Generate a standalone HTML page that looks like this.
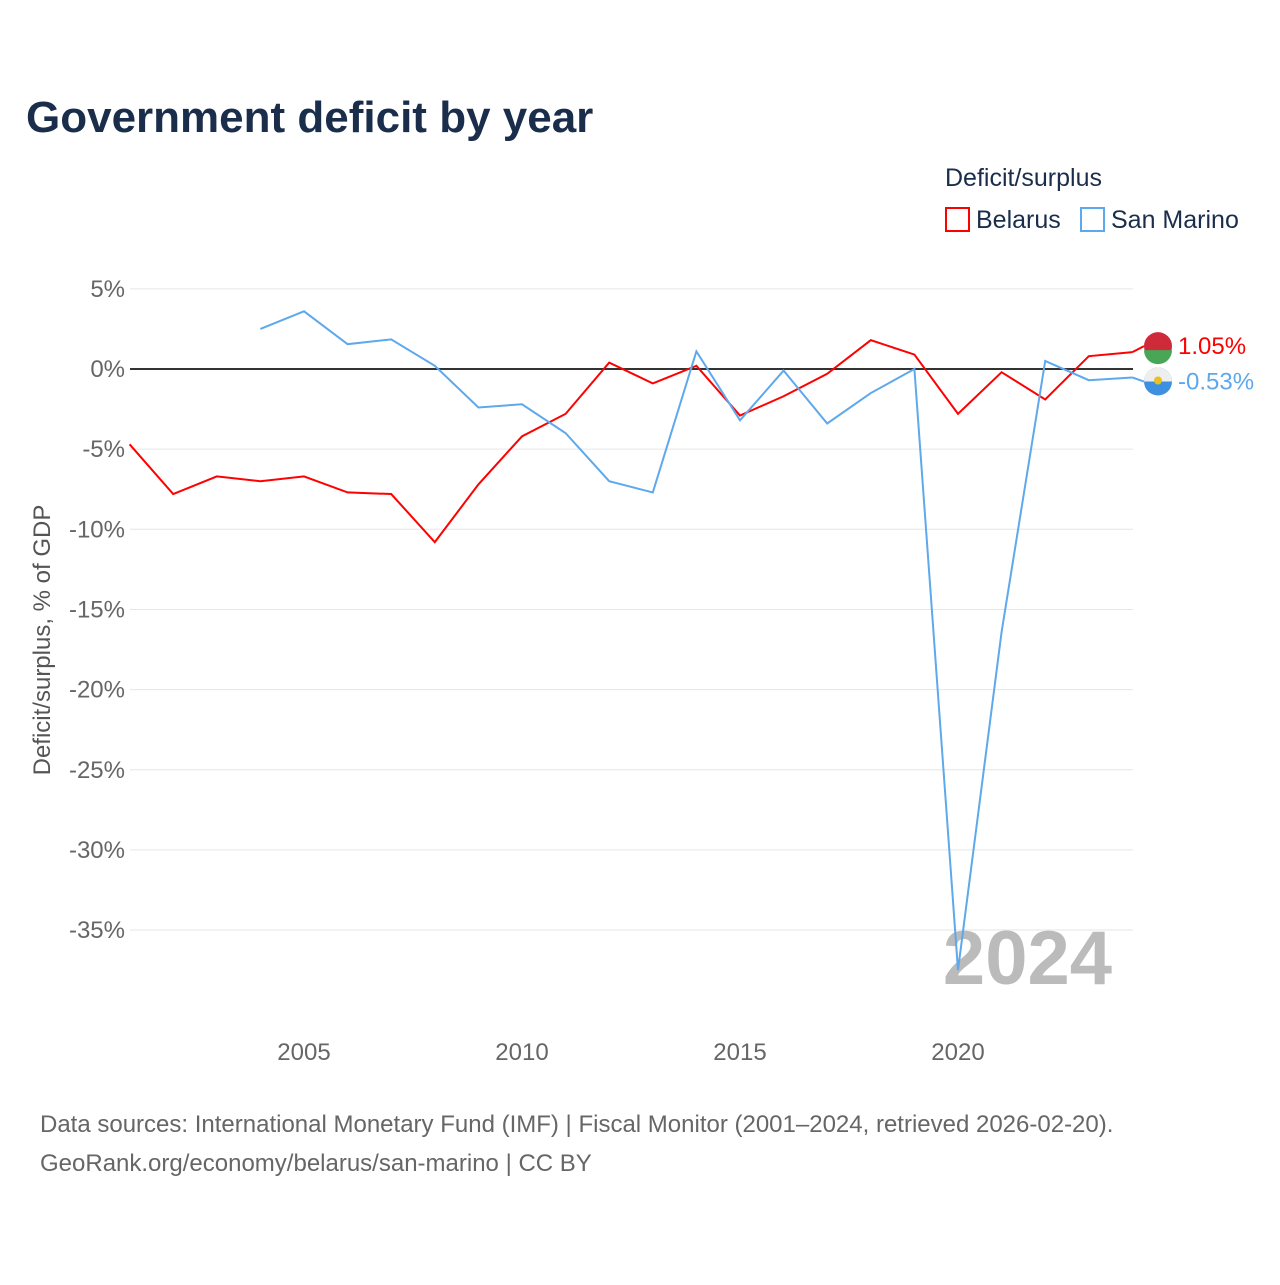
<!DOCTYPE html>
<html><head><meta charset="utf-8"><style>
body{margin:0;background:#fff;font-family:"Liberation Sans",sans-serif}
svg text{font-family:"Liberation Sans",sans-serif}
</style></head><body>
<svg width="1280" height="1280" xmlns="http://www.w3.org/2000/svg" id="chart">
<text x="26" y="132" font-size="44" font-weight="bold" fill="#1a2e4c">Government deficit by year</text>
<text x="945" y="186" font-size="25" fill="#1a2e4c">Deficit/surplus</text>
<g><rect x="946" y="208" width="23" height="23" fill="none" stroke="#ff0000" stroke-width="2"/><text x="976" y="228" font-size="25" fill="#1a2e4c">Belarus</text></g>
<g><rect x="1081" y="208" width="23" height="23" fill="none" stroke="#5ea8ec" stroke-width="2"/><text x="1111" y="228" font-size="25" fill="#1a2e4c">San Marino</text></g>
<g id="grid"></g>
<g id="yticks"></g>
<g id="xticks"></g>
<text transform="translate(50,640) rotate(-90)" text-anchor="middle" font-size="24" fill="#555">Deficit/surplus, % of GDP</text>
<text x="1112" y="984" text-anchor="end" font-size="76" font-weight="bold" fill="#bbb">2024</text>
<g id="series"></g>
<text x="40" y="1132" font-size="24" fill="#666">Data sources: International Monetary Fund (IMF) | Fiscal Monitor (2001–2024, retrieved 2026-02-20).</text>
<text x="40" y="1171" font-size="24" fill="#666">GeoRank.org/economy/belarus/san-marino | CC BY</text>
</svg>
<script>
const years=[2001,2002,2003,2004,2005,2006,2007,2008,2009,2010,2011,2012,2013,2014,2015,2016,2017,2018,2019,2020,2021,2022,2023,2024];
const belarus=[-4.7,-7.8,-6.7,-7.0,-6.7,-7.7,-7.8,-10.8,-7.2,-4.2,-2.8,0.4,-0.9,0.2,-2.9,-1.7,-0.3,1.8,0.9,-2.8,-0.2,-1.9,0.8,1.05];
const sanMarino=[null,null,null,2.5,3.6,1.55,1.85,0.2,-2.4,-2.2,-4.0,-7.0,-7.7,1.1,-3.2,-0.1,-3.4,-1.5,0,-37.5,-16.4,0.5,-0.7,-0.53];
const yTicks=[5,0,-5,-10,-15,-20,-25,-30,-35];
const xTicks=[2005,2010,2015,2020];
const NS="http://www.w3.org/2000/svg";
const x=v=>129.6+(v-2001)*43.6;
const y=v=>369-v*16.03;
function mk(t,a,p){const e=document.createElementNS(NS,t);for(const k in a)e.setAttribute(k,a[k]);p.appendChild(e);return e;}
const grid=document.getElementById('grid'),yt=document.getElementById('yticks'),xt=document.getElementById('xticks'),ser=document.getElementById('series');
yTicks.forEach(t=>{
 const l=mk('line',{x1:130,x2:1133,y1:y(t),y2:y(t),stroke:t===0?'#333':'#e6e6e6','stroke-width':t===0?2:1},grid);
 
 
 const tx=mk('text',{x:125,y:y(t)+8,'text-anchor':'end','font-size':24,fill:'#666'},yt);
 tx.textContent=t+'%';
 
 
});
xTicks.forEach(t=>{
 const tx=mk('text',{x:x(t),y:1060,'text-anchor':'middle','font-size':24,fill:'#666'},xt);
 tx.textContent=t;
 
 
});
function line(vals,color,name){
 let d='';vals.forEach((v,i)=>{if(v===null)return;d+=(d?'L':'M')+x(years[i])+','+y(v);});
 const p=mk('path',{d:d,fill:'none',stroke:color,'stroke-width':2},ser);
 
 
}
line(belarus,'#ff0000','belarus-line');
line(sanMarino,'#5ea8ec','san-marino-line');
const bl=belarus[belarus.length-1],sl=sanMarino[sanMarino.length-1];
const by=y(bl)-6, sy=y(sl)+4;
mk('path',{d:`M${x(2024)},${y(bl)} L1144,${by}`,stroke:'#ff0000','stroke-width':2,fill:'none'},ser);
mk('path',{d:`M${x(2024)},${y(sl)} L1144,${sy}`,stroke:'#5ea8ec','stroke-width':2,fill:'none'},ser);
const f1=mk('circle',{cx:1158,cy:by,r:14,fill:'#cf2a3a'},ser);


mk('path',{d:`M1144,${by+4} A14,14 0 0 0 1172,${by+4} Z`,fill:'#4aa657'},ser);
const t1=mk('text',{x:1178,y:by+8,'font-size':24,fill:'#ff0000'},ser);
t1.textContent=bl.toFixed(2)+'%';


const f2=mk('circle',{cx:1158,cy:sy,r:14,fill:'#3d8fe0'},ser);


mk('path',{d:`M1144,${sy} A14,14 0 0 1 1172,${sy} Z`,fill:'#eee'},ser);
mk('circle',{cx:1158,cy:sy-1,r:4,fill:'#e8c020'},ser);
const t2=mk('text',{x:1178,y:sy+8,'font-size':24,fill:'#5ea8ec'},ser);
t2.textContent=sl.toFixed(2)+'%';


</script>
</body></html>
